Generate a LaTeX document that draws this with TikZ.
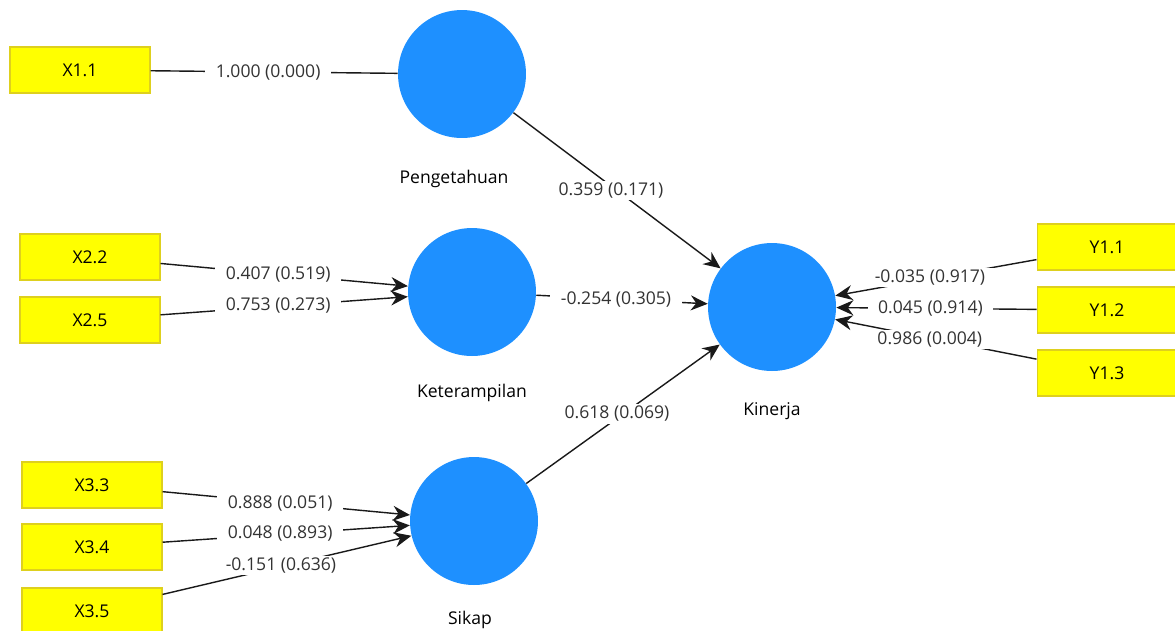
\documentclass[tikz,border=0pt]{standalone}
\usepackage{fontspec}
\setmainfont{Open Sans}
\usetikzlibrary{arrows.meta,positioning}

\definecolor{lvblue}{RGB}{30,144,255}
\definecolor{mvyellow}{RGB}{255,255,0}
\definecolor{mvedge}{RGB}{222,208,30}

\begin{document}
\begin{tikzpicture}[x=0.02cm,y=-0.02cm,
        >={Stealth[length=3.4mm,width=3mm]},
        lv/.style={circle,fill=lvblue,minimum size=2.56cm,inner sep=0pt},
        mv/.style={fill=mvyellow,draw=mvedge,line width=0.6pt,minimum width=2.8cm,minimum height=0.92cm},
        lnk/.style={draw=black!90,line width=0.8pt},
        coef/.style={fill=white,inner xsep=6pt,inner ysep=1pt,xshift=-0.12cm,text=black!80}]
    \fontsize{10}{12}\selectfont
    \useasboundingbox (0,0) rectangle (1175,630);

    % latent variables
    \node[lv] (P) at (462,74)  {};
    \node[lv] (K) at (472,292) {};
    \node[lv] (S) at (474,521) {};
    \node[lv] (Y) at (772,307) {};
    \node[below=0.52cm of P,xshift=-0.16cm] (Pn) {Pengetahuan};
    \node[below=0.44cm of K] (Kn) {Keterampilan};
    \node[below=0.40cm of S,xshift=-0.08cm] (Sn) {Sikap};
    \node[below=0.50cm of Y] (Yn) {Kinerja};

    % indicators
    \node[mv] (X11) at (80,70)   {X1.1};
    \node[mv] (X22) at (90,257)  {X2.2};
    \node[mv] (X25) at (90,320)  {X2.5};
    \node[mv] (X33) at (92,485)  {X3.3};
    \node[mv] (X34) at (92,547)  {X3.4};
    \node[mv] (X35) at (92,611)  {X3.5};
    \node[mv] (Y11) at (1107,247) {Y1.1};
    \node[mv] (Y12) at (1107,310) {Y1.2};
    \node[mv] (Y13) at (1107,373) {Y1.3};

    % outer model
    \draw[lnk]    (X11) -- node[coef] {1.000 (0.000)}  (P);
    \draw[lnk,->] (X22) -- node[coef] {0.407 (0.519)}  (K);
    \draw[lnk,->] (X25) -- node[coef] {0.753 (0.273)}  (K);
    \draw[lnk,->] (X33) -- node[coef] {0.888 (0.051)}  (S);
    \draw[lnk,->] (X34) -- node[coef] {0.048 (0.893)}  (S);
    \draw[lnk,->] (X35) -- node[coef] {-0.151 (0.636)} (S);
    \draw[lnk,->] (Y11) -- node[coef] {-0.035 (0.917)} (Y);
    \draw[lnk,->] (Y12) -- node[coef] {0.045 (0.914)}  (Y);
    \draw[lnk,->] (Y13) -- node[coef] {0.986 (0.004)}  (Y);

    % inner model
    \draw[lnk,->] (P) -- node[coef] {0.359 (0.171)}  (Y);
    \draw[lnk,->] (K) -- node[coef] {-0.254 (0.305)} (Y);
    \draw[lnk,->] (S) -- node[coef] {0.618 (0.069)}  (Y);
\end{tikzpicture}
\end{document}
